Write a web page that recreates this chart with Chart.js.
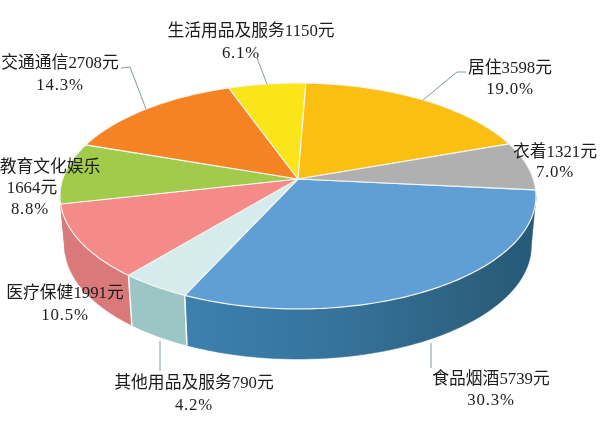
<!DOCTYPE html>
<html>
<head>
<meta charset="utf-8">
<style>
  html, body { margin: 0; padding: 0; background: #fff; }
  canvas { display: block; }
</style>
<script src="https://cdn.jsdelivr.net/npm/chart.js@4/dist/chart.umd.min.js"></script>
</head>
<body>
<canvas id="pie" width="600" height="427"></canvas>
<script>
const categories = ['食品烟酒', '其他用品及服务', '医疗保健', '教育文化娱乐', '交通通信', '生活用品及服务', '居住', '衣着'];
const amounts = [5739, 790, 1991, 1664, 2708, 1150, 3598, 1321];
const percents = ['30.3%', '4.2%', '10.5%', '8.8%', '14.3%', '6.1%', '19.0%', '7.0%'];
const topColors = ['#5f9fd6', '#d6ecec', '#f48b88', '#a3cb4b', '#f58223', '#f9e519', '#fbbf12', '#b0b0b0'];
const wallColors = ['#35729b', '#9cc5c5', '#d9797a', '#d9797a', '#c96a1c', '#c9b814', '#c9980e', '#8c8c8c'];

// centre x / middle y of each text line, per label
const labelSpots = [
  [[491, 380], [491, 401]],
  [[194, 384], [194, 406]],
  [[65, 294], [65, 316]],
  [[50, 168], [32, 189], [30, 210]],
  [[60, 64], [60, 86]],
  [[251, 32], [241, 54]],
  [[510, 69], [510, 90]],
  [[555, 153], [555, 173]],
];

const leaders = [
  [[431, 343], [431, 368]],
  [[160, 341], [160, 371]],
  [[121, 68], [130, 67], [146, 109]],
  [[257, 58], [267, 84]],
  [[466, 72], [457, 72], [423, 100]],
];

// perspective mapping of the pie's unit circle onto the picture
const centerX = 298;
const tilt = -0.1504;
const topPlane = { a: 235.3, b: 83.5, c: 179 };
const bottomPlane = { a: 230.6, b: 76, c: 229 };
const WALL_FROM = 8.6 * Math.PI / 180;
const WALL_TO = 171.4 * Math.PI / 180;
const STEP = Math.PI / 180;

function project(angle, plane) {
  const x = Math.cos(angle);
  const y = Math.sin(angle);
  const d = 1 + tilt * y;
  return [centerX + plane.a * x / d, (plane.c + plane.b * y) / d];
}

function rim(ctx, from, to, plane) {
  const n = Math.max(2, Math.ceil(Math.abs(to - from) / STEP));
  for (let i = 0; i <= n; i++) {
    const p = project(from + (to - from) * i / n, plane);
    ctx.lineTo(p[0], p[1]);
  }
}

function wallFill(ctx, index) {
  if (index !== 0) return wallColors[index];
  const g = ctx.createLinearGradient(188, 0, 537, 0);
  g.addColorStop(0, '#3c80ae');
  g.addColorStop(0.45, wallColors[0]);
  g.addColorStop(0.85, '#2c5f7c');
  g.addColorStop(1, '#245a78');
  return g;
}

const pie3d = {
  id: 'pie3d',
  beforeDatasetsDraw(chart) {
    const ctx = chart.ctx;
    const arcs = chart.getDatasetMeta(0).data;
    const slices = arcs.map((arc, i) => {
      const p = arc.getProps(['startAngle', 'endAngle']);
      return { i, start: p.startAngle, end: p.endAngle };
    });

    ctx.save();
    ctx.lineJoin = 'round';

    // side wall
    slices.forEach(s => {
      [0, 2 * Math.PI, -2 * Math.PI].forEach(turn => {
        const from = Math.max(s.start, WALL_FROM + turn);
        const to = Math.min(s.end, WALL_TO + turn);
        if (to <= from) return;
        ctx.beginPath();
        rim(ctx, from, to, topPlane);
        rim(ctx, to, from, bottomPlane);
        ctx.closePath();
        ctx.fillStyle = wallFill(ctx, s.i);
        ctx.fill();
        ctx.strokeStyle = wallFill(ctx, s.i);
        ctx.lineWidth = 0.6;
        ctx.stroke();
      });
    });

    // white seams on the wall
    ctx.strokeStyle = '#ffffff';
    ctx.lineWidth = 1.5;
    [0, 1].forEach(i => {
      const a = slices[i].end;
      const p = project(a, topPlane);
      const q = project(a, bottomPlane);
      ctx.beginPath();
      ctx.moveTo(p[0], p[1]);
      ctx.lineTo(q[0], q[1]);
      ctx.stroke();
    });

    // top face
    slices.forEach(s => {
      ctx.beginPath();
      ctx.moveTo(centerX, topPlane.c);
      rim(ctx, s.start, s.end, topPlane);
      ctx.closePath();
      ctx.fillStyle = topColors[s.i];
      ctx.fill();
      ctx.strokeStyle = '#f4f4f0';
      ctx.lineWidth = 1.2;
      ctx.stroke();
    });

    ctx.restore();
    return false;
  },
  afterDraw(chart) {
    const ctx = chart.ctx;
    ctx.save();

    // leader lines
    ctx.strokeStyle = '#7f98a3';
    ctx.lineWidth = 1;
    leaders.forEach(line => {
      ctx.beginPath();
      line.forEach((p, i) => (i ? ctx.lineTo(p[0], p[1]) : ctx.moveTo(p[0], p[1])));
      ctx.stroke();
    });

    // labels
    ctx.fillStyle = '#1c1c1c';
    ctx.textAlign = 'center';
    ctx.textBaseline = 'middle';
    ctx.font = '16.8px "Liberation Serif", "Noto Sans CJK SC"';
    categories.forEach((name, i) => {
      const spots = labelSpots[i];
      const lines = spots.length === 3
        ? [name, amounts[i] + '元', percents[i]]
        : [name + amounts[i] + '元', percents[i]];
      lines.forEach((text, j) => {
        ctx.letterSpacing = j === lines.length - 1 ? '0.8px' : '0px';
        ctx.fillText(text, spots[j][0], spots[j][1]);
      });
    });
    ctx.restore();
  },
};

new Chart(document.getElementById('pie').getContext('2d'), {
  type: 'pie',
  data: {
    labels: categories,
    datasets: [{ data: amounts, backgroundColor: topColors, borderWidth: 0 }],
  },
  options: {
    responsive: false,
    animation: false,
    rotation: 95.6,
    plugins: {
      legend: { display: false },
      tooltip: { enabled: false },
    },
  },
  plugins: [pie3d],
});
</script>
</body>
</html>
